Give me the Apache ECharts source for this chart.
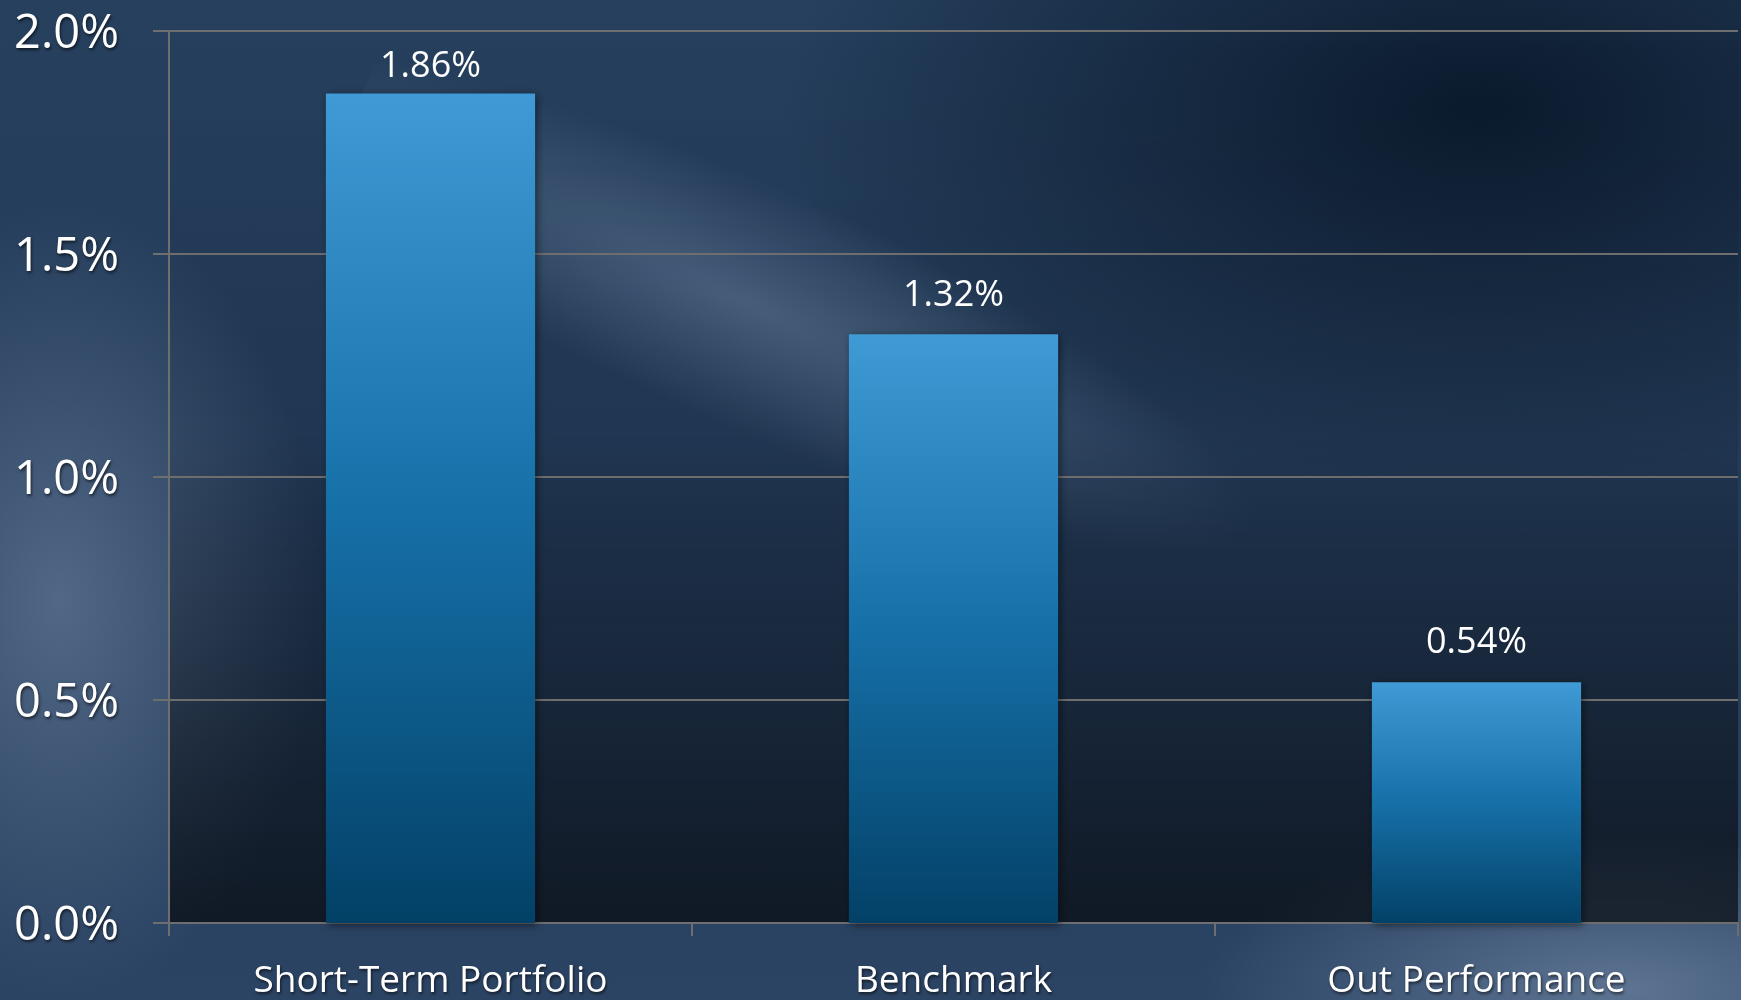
<!DOCTYPE html>
<html>
<head>
<meta charset="utf-8">
<script src="https://cdn.jsdelivr.net/npm/echarts@6/dist/echarts.min.js"></script>
<style>
html,body{margin:0;padding:0;width:1741px;height:1000px;overflow:hidden;}
#bg{position:absolute;left:0;top:0;width:1741px;height:1000px;overflow:hidden;
background:
 radial-gradient(ellipse 260px 400px at 60px 600px, rgba(95,118,148,0.75), rgba(95,118,148,0) 100%),
 radial-gradient(ellipse 420px 160px at 1620px 990px, rgba(105,128,158,0.8), rgba(105,128,158,0) 100%),
 radial-gradient(ellipse 700px 380px at 1480px 110px, rgba(5,18,34,0.8), rgba(5,18,34,0) 100%),
 linear-gradient(180deg, #26405e 0%, #233a58 55%, #2c4464 100%);
}
#streak{position:absolute;left:300px;top:230px;width:1100px;height:240px;
 transform:rotate(24deg);transform-origin:50% 50%;
 background: radial-gradient(ellipse 50% 50% at 40% 50%, rgba(100,125,155,0.6), rgba(100,125,155,0) 100%);}
#chart{position:absolute;left:0;top:0;width:1741px;height:1000px;}
</style>
</head>
<body>
<div id="bg"><div id="streak"></div></div>
<div id="chart"></div>
<script>
const categories = ["Short-Term Portfolio", "Benchmark", "Out Performance"];
const values = [1.86, 1.32, 0.54];
const yTicks = { min: 0, max: 2.0, interval: 0.5 };

const FONT = "'Open Sans', 'Noto Sans', sans-serif";
const chart = echarts.init(document.getElementById('chart'), null, { renderer: 'canvas' });
const seriesData = values.map((v, i) => i === 0 ? { value: v, label: { distance: 9 } } : { value: v });
const shadow = { textShadowColor: 'rgba(0,0,0,0.6)', textShadowBlur: 3, textShadowOffsetX: 1, textShadowOffsetY: 2 };
chart.setOption({
  backgroundColor: 'transparent',
  animation: false,
  grid: {
    left: 169, right: 3, top: 31, bottom: 75,
    show: true, borderWidth: 0,
    backgroundColor: new echarts.graphic.LinearGradient(0, 0, 0, 1, [
      { offset: 0, color: 'rgba(0,0,0,0.0)' },
      { offset: 0.45, color: 'rgba(0,0,0,0.08)' },
      { offset: 1, color: 'rgba(0,0,0,0.62)' }
    ])
  },
  xAxis: {
    type: 'category',
    data: categories,
    axisLine: { show: true, lineStyle: { color: '#6e6e6e', width: 2 } },
    axisTick: { show: true, alignWithLabel: false, length: 13, lineStyle: { color: '#6e6e6e', width: 2 } },
    axisLabel: Object.assign({
      color: '#ffffff', fontFamily: FONT, fontSize: 37, margin: 40
    }, shadow)
  },
  yAxis: {
    type: 'value',
    min: yTicks.min, max: yTicks.max, interval: yTicks.interval,
    axisLine: { show: true, lineStyle: { color: '#6e6e6e', width: 2 } },
    axisTick: { show: true, length: 16, lineStyle: { color: '#6e6e6e', width: 2 } },
    splitLine: { show: true, lineStyle: { color: '#6e6e6e', width: 2 } },
    axisLabel: {
      margin: 50,
      formatter: v => '{a|' + v.toFixed(1) + '%}',
      rich: {
        a: Object.assign({ color: '#ffffff', fontFamily: FONT, fontSize: 47, padding: [8, 0, 0, 0] }, shadow)
      }
    }
  },
  series: [{
    type: 'bar',
    data: seriesData,
    barCategoryGap: '60%',
    itemStyle: {
      color: new echarts.graphic.LinearGradient(0, 0, 0, 1, [
        { offset: 0, color: '#3f9ad5' },
        { offset: 0.5, color: '#1670a8' },
        { offset: 1, color: '#034167' }
      ]),
      shadowColor: 'rgba(0,0,0,0.5)', shadowBlur: 8, shadowOffsetX: 2, shadowOffsetY: 2
    },
    label: {
      show: true, position: 'top', distance: 21,
      color: '#ffffff', fontFamily: FONT, fontSize: 36,
      formatter: p => p.value.toFixed(2) + '%'
    }
  }]
});
</script>
</body>
</html>
